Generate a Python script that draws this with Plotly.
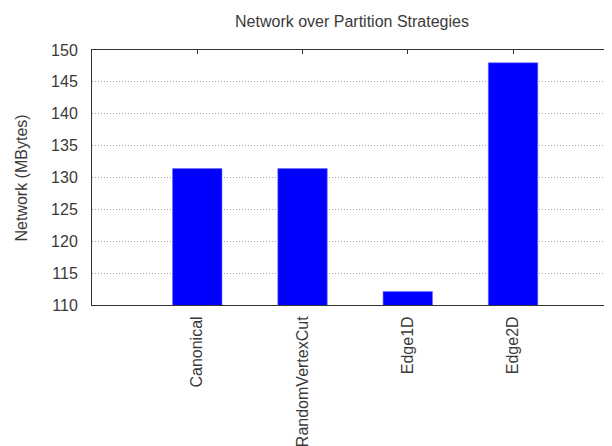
import plotly.graph_objects as go

categories = ["Canonical", "RandomVertexCut", "Edge1D", "Edge2D"]
network_mb = [131.4, 131.4, 112.1, 148.0]
y_ticks = [110, 115, 120, 125, 130, 135, 140, 145, 150]

fig = go.Figure(
    go.Bar(
        x=list(range(len(categories))),
        y=network_mb,
        width=0.47,
        marker=dict(color="#0000ff", line=dict(color="#6f6fff", width=0.6)),
    )
)

font_family = "Liberation Sans, Arial, sans-serif"
fsize = 16
tcolor = "#3a3a3a"

# page body has an 8px margin, so the figure is 8px smaller and margins shifted
fig.update_layout(
    width=604,
    height=438,
    margin=dict(l=84, r=0, t=42, b=141),
    paper_bgcolor="white",
    plot_bgcolor="white",
    showlegend=False,
    font=dict(family=font_family, size=fsize, color=tcolor),
    title=dict(
        text="Network over Partition Strategies",
        x=0.5, xref="paper", xanchor="center",
        y=1 - 13 / 438, yref="container", yanchor="middle",
        font=dict(family=font_family, size=fsize, color=tcolor),
        automargin=False,
    ),
    annotations=[dict(
        text="Network (MBytes)", textangle=-90,
        xref="paper", yref="paper", x=0, y=0.5,
        xanchor="center", yanchor="middle", xshift=-71, yshift=-1,
        showarrow=False,
        font=dict(family=font_family, size=fsize, color=tcolor),
    )],
)

fig.update_xaxes(
    range=[-1, 3.94],
    tickmode="array",
    tickvals=list(range(len(categories))),
    ticktext=categories,
    tickangle=-90,
    ticks="inside",
    ticklen=4,
    tickcolor="#333333",
    showline=True,
    linecolor="#333333",
    linewidth=1,
    mirror="ticks",
    showgrid=False,
    zeroline=False,
    ticklabelstandoff=4,
    tickfont=dict(family=font_family, size=fsize, color=tcolor),
    layer="below traces",
    automargin=False,
)

fig.update_yaxes(
    range=[110, 150],
    tickmode="array",
    tickvals=y_ticks,
    ticks="",
    showline=True,
    linecolor="#333333",
    linewidth=1,
    showgrid=True,
    gridcolor="#a0a0a0",
    griddash="1px,2px",
    gridwidth=1,
    zeroline=False,
    ticklabelstandoff=10,
    tickfont=dict(family=font_family, size=fsize, color=tcolor),
    automargin=False,
)

fig.write_html("out.html")
